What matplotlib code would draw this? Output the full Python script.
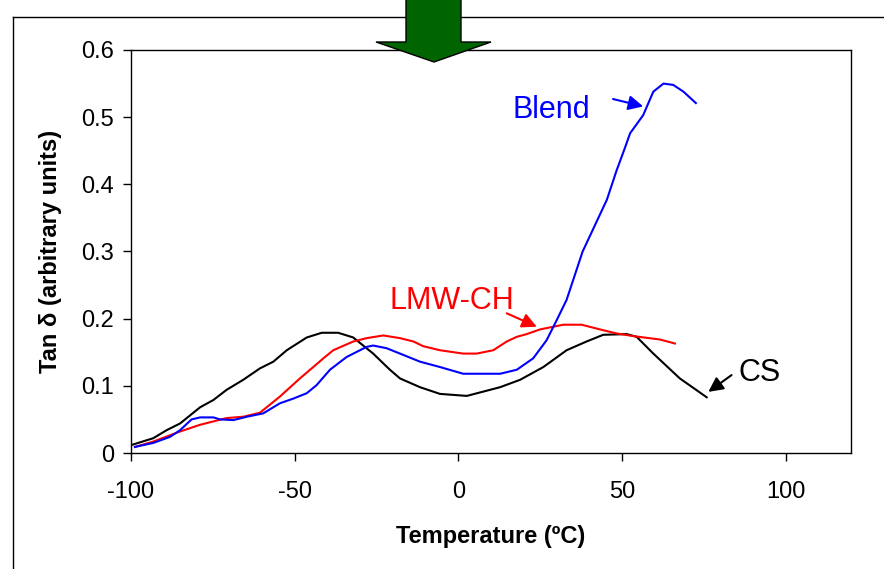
import matplotlib
matplotlib.use('Agg')
import matplotlib.pyplot as plt
from matplotlib.patches import Polygon
from matplotlib.lines import Line2D

plt.rcParams['font.family'] = ['Liberation Sans', 'DejaVu Sans']
plt.rcParams['axes.unicode_minus'] = False

# CS (black)
cs_t = [-99.8, -93.2, -89.1, -85, -78.9, -74.8, -70.8, -65.7, -60.6, -56.5, -52.4, -46.3,
        -41.7, -36.7, -32.1, -26, -20.9, -17.8, -11.7, -5.6, 2.6, 12.8, 18.9, 26, 33.1,
        39.2, 44.3, 51.5, 54.5, 59.6, 67.7, 75.9]
cs_tan = [.012, .022, .034, .044, .068, .079, .094, .109, .126, .136, .153, .172,
          .179, .179, .172, .148, .124, .111, .098, .088, .085, .098, .109, .128, .153,
          .166, .176, .177, .173, .148, .111, .083]

# LMW-CH (red)
ch_t = [-98.8, -93.2, -85, -78.9, -70.8, -65.7, -60.6, -54.5, -48.4, -44.3, -41.2, -38.2,
        -32.1, -28, -22.9, -17.8, -13.7, -10.7, -5.6, 1.5, 5.6, 10.7, 14.8, 17.9, 20.9,
        25, 32.1, 37.7, 43.3, 48.4, 53.5, 61.6, 66.2]
ch_tan = [.009, .017, .032, .042, .052, .054, .060, .084, .111, .128, .141, .153,
          .166, .171, .175, .171, .166, .159, .153, .148, .148, .153, .166, .173, .177,
          .184, .191, .191, .184, .178, .174, .169, .163]

# Blend (blue)
bl_t = [-98.8, -93.2, -88.1, -85, -81.5, -78.9, -74.8, -72.8, -68.7, -64.6, -59.6, -54.5,
        -50.4, -46.3, -43.3, -39.2, -34.1, -28, -26, -21.9, -17.8, -11.7, -5.6, 1.5, 12.8,
        17.9, 22.9, 27, 30.1, 33.1, 38, 45.4, 48.4, 50.9, 52.5, 56.5, 59.6, 62.7, 65.7,
        68.8, 72.6]
bl_tan = [.009, .015, .024, .034, .050, .053, .053, .050, .049, .054, .059, .074,
          .081, .089, .101, .124, .143, .158, .160, .156, .148, .136, .128, .118, .118,
          .124, .141, .168, .198, .228, .30, .377, .421, .454, .476, .503, .538, .550, .548,
          .538, .521]

W, H = 884, 569
fig = plt.figure(figsize=(W / 100, H / 100), dpi=100)
ax = fig.add_axes([131 / W, 1 - 453 / H, 720 / W, 403 / H])

lw = 1.5
ax.plot(cs_t, cs_tan, color='black', lw=lw)
ax.plot(ch_t, ch_tan, color='#FF0000', lw=lw)
ax.plot(bl_t, bl_tan, color='#0000FF', lw=lw)

ax.set_xlim(-100, 120)
ax.set_ylim(0, 0.6)
ax.set_xticks([-100, -50, 0, 50, 100])
ax.set_yticks([0, 0.1, 0.2, 0.3, 0.4, 0.5, 0.6])
ax.set_yticklabels(['0', '0.1', '0.2', '0.3', '0.4', '0.5', '0.6'])
ax.tick_params(direction='out', length=6, width=1, labelsize=17, pad=6)
ax.tick_params(axis='x', pad=14)
for s in ax.spines.values():
    s.set_linewidth(1)

ax.set_xlabel('Temperature (ºC)', fontsize=17, fontweight='bold', labelpad=16)
ax.set_ylabel('Tan δ (arbitrary units)', fontsize=17, fontweight='bold', labelpad=14)

# labels with arrows
arw = dict(arrowstyle='-|>', lw=1.5, mutation_scale=22, shrinkA=0, shrinkB=0)
ax.text(28.3, 0.510, 'Blend', color='#0000FF', fontsize=22, ha='center', va='center')
ax.annotate('', xy=(56.5, 0.516), xytext=(47.3, 0.527),
            arrowprops=dict(arw, color='#0000FF'))
ax.text(-1.9, 0.226, 'LMW-CH', color='#FF0000', fontsize=22, ha='center', va='center')
ax.annotate('', xy=(24.0, 0.188), xytext=(14.8, 0.208),
            arrowprops=dict(arw, color='#FF0000'))
ax.text(92.0, 0.119, 'CS', color='black', fontsize=22, ha='center', va='center')
ax.annotate('', xy=(76.4, 0.091), xytext=(83.5, 0.116),
            arrowprops=dict(arw, color='black'))

# outer frame (left and top edges)
def px(x, y):
    return x / W, 1 - y / H

fig.add_artist(Line2D([px(13, 17)[0], px(13, 569)[0]], [px(13, 17)[1], px(13, 569)[1]],
                      color='black', lw=1))
fig.add_artist(Line2D([px(13, 17)[0], 1.0], [px(13, 17)[1], px(13, 17)[1]],
                      color='black', lw=1))

# green arrow at the top
arrow_pts = [px(406, -2), px(461, -2), px(461, 42), px(491, 42), px(434, 62),
             px(376, 42), px(406, 42)]
fig.add_artist(Polygon(arrow_pts, closed=True, facecolor='#006400', edgecolor='black',
                       lw=1, transform=fig.transFigure, zorder=10))

fig.savefig('out.png', dpi=100)
